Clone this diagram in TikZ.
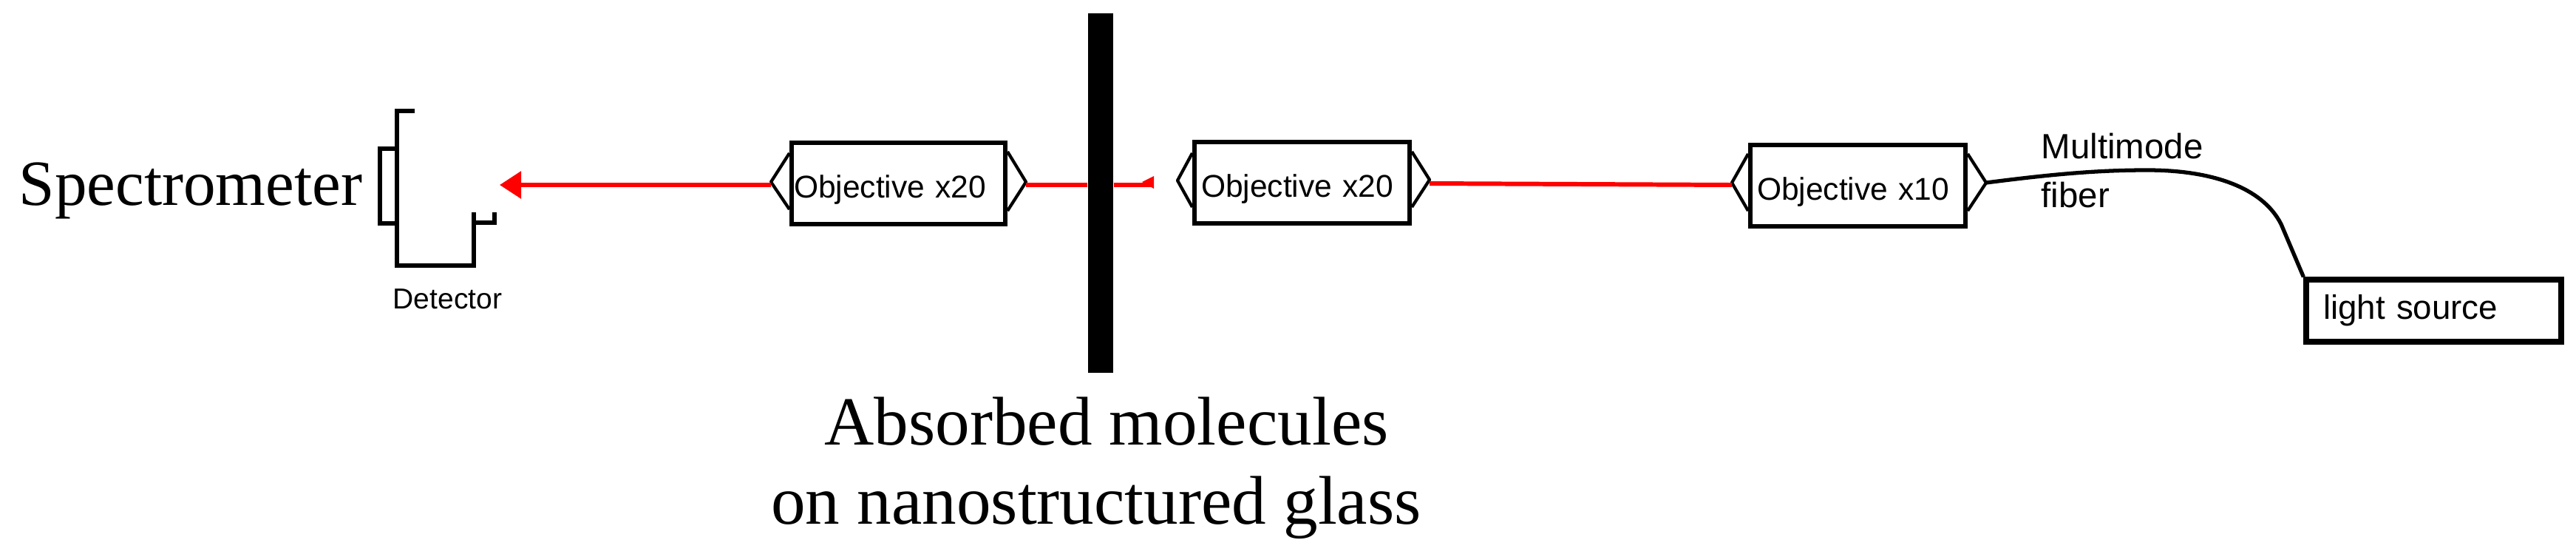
\documentclass[tikz,border=0pt]{standalone}
\usepackage{fontspec}
\setmainfont{Liberation Serif}
\setsansfont{Liberation Sans}
\usetikzlibrary{arrows.meta}
\tikzset{
  objbox/.style={draw, line width=1.7pt, inner xsep=0.09cm, inner ysep=0pt, text width=2.73cm, minimum height=1.1cm, text height=0.38cm, text depth=0pt, font=\sffamily\fontsize{12.1}{15}\selectfont},
  sourcebox/.style={draw, line width=2.1pt, inner xsep=0.23cm, inner ysep=0pt, text width=2.99cm, minimum height=0.84cm, text height=0.23cm, text depth=0pt, font=\sffamily\fontsize{13}{16}\selectfont},
  chevron/.style={line width=1.2pt, line join=round},
  beam/.style={red, line width=1.7pt},
  fiberline/.style={line width=1.5pt},
  detline/.style={line width=1.6pt, line join=miter},
  sanslabel/.style={inner sep=0pt, anchor=base west, font=\sffamily\fontsize{13.5}{16}\selectfont},
  bigserif/.style={inner sep=0pt, font=\fontsize{26.5}{30}\selectfont}
}
\begin{document}
\begin{tikzpicture}
\useasboundingbox (0,0) rectangle (34.85,7.52);
% Objectives and light source
\node[objbox, inner xsep=0.03cm, text width=2.83cm] (objA) at (12.155,5.04) {Objective x20};
\node[objbox] (objB) at (17.615,5.05) {Objective x20};
\node[objbox] (objC) at (25.135,5.01) {Objective x10};
\node[sourcebox] (source) at (32.925,3.32) {light source};
% Chevron tips
\coordinate (objAl) at (10.43,5.06);
\coordinate (objAr) at (13.88,5.06);
\coordinate (objBl) at (15.93,5.08);
\coordinate (objBr) at (19.34,5.09);
\coordinate (objCl) at (23.43,5.05);
\coordinate (objCr) at (26.87,5.05);
\draw[chevron] ([yshift=0.41cm]objA.west) -- (objAl) -- ([yshift=-0.35cm]objA.west);
\draw[chevron] ([yshift=0.43cm]objA.east) -- (objAr) -- ([yshift=-0.37cm]objA.east);
\draw[chevron] ([yshift=0.40cm]objB.west) -- (objBl) -- ([yshift=-0.33cm]objB.west);
\draw[chevron] ([yshift=0.42cm]objB.east) -- (objBr) -- ([yshift=-0.33cm]objB.east);
\draw[chevron] ([yshift=0.43cm]objC.west) -- (objCl) -- ([yshift=-0.34cm]objC.west);
\draw[chevron] ([yshift=0.43cm]objC.east) -- (objCr) -- ([yshift=-0.34cm]objC.east);
% Glass plate
\node[fill=black, inner sep=0pt, minimum width=0.34cm, minimum height=4.86cm] (glass) at (14.89,4.91) {};
% Red beam
\coordinate (arrowend) at (6.76,5.02);
\coordinate (stub) at (15.61,5.02);
\draw[beam, -{Triangle[length=0.29cm, width=0.36cm]}] (objAl |- arrowend) -- (arrowend);
\draw[beam] (objAr |- arrowend) -- (glass.west |- arrowend);
\draw[beam] (glass.east |- arrowend) -- (stub);
\fill[red] (15.45,5.06) -- (15.61,5.14) -- (15.61,4.97) -- cycle;
\draw[beam] ([yshift=-0.05cm]objBr) -- ([yshift=-0.03cm]objCl);
% Fiber
\draw[fiberline] (objCr) .. controls (27.8,5.17) and (28.4,5.22) .. (29.05,5.22) .. controls (29.9,5.22) and (30.6,5.0) .. (30.86,4.49) -- (source.north west);
\node[sanslabel] (multimode) at (27.61,5.38) {Multimode};
\node[sanslabel] (fiber) at (27.61,4.72) {fiber};
% Detector
\draw[detline] (5.61,6.02) -- (5.37,6.02) -- (5.37,3.93) -- (6.41,3.93) -- (6.41,4.65);
\draw[detline] (6.41,4.51) -- (6.69,4.51) -- (6.69,4.65);
\draw[detline] (5.37,5.51) -- (5.14,5.51) -- (5.14,4.50) -- (5.37,4.50);
\node[sanslabel, font=\sffamily\fontsize{11.1}{13}\selectfont] (detector) at (5.31,3.35) {Detector};
% Large labels
\node[bigserif, anchor=base west, font=\fontsize{24.8}{28}\selectfont] (spectro) at (0.25,4.75) {Spectrometer};
\node[bigserif, anchor=base] (absorbed) at (14.97,1.51) {Absorbed molecules};
\node[bigserif, anchor=base] (glasslabel) at (14.83,0.44) {on nanostructured glass};
\end{tikzpicture}
\end{document}
